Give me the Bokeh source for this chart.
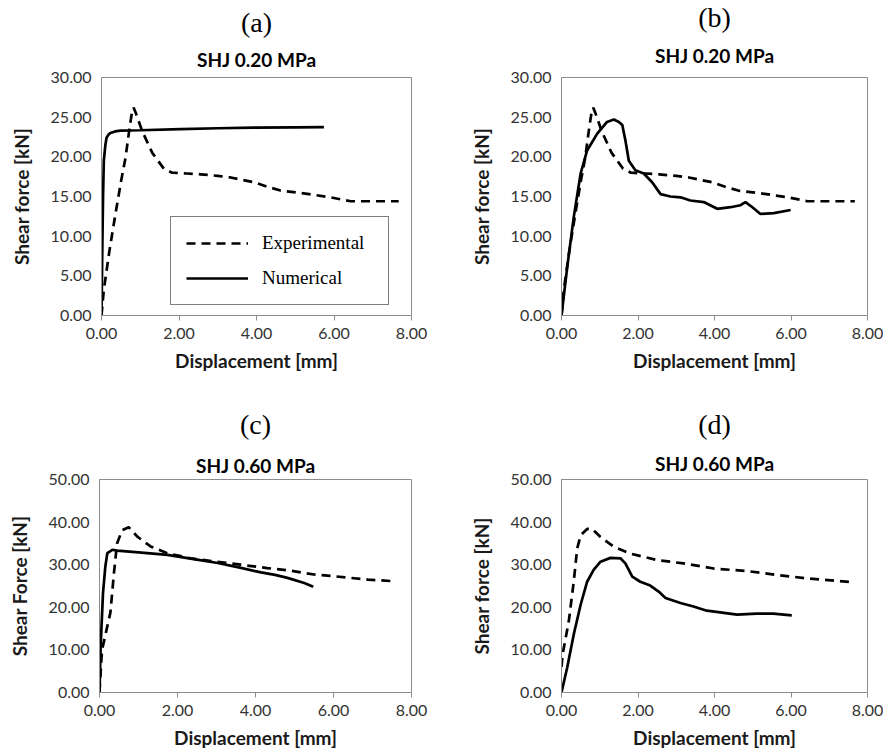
from bokeh.plotting import figure
from bokeh.models import (Range1d, FixedTicker, PrintfTickFormatter, Title,
                          Legend, LegendItem)
from bokeh.layouts import column, row
from bokeh.embed import file_html
from bokeh.resources import INLINE

# ---------------- data ----------------
x_ticks = [0, 2, 4, 6, 8]
y_ticks_02 = [0, 5, 10, 15, 20, 25, 30]
y_ticks_06 = [0, 10, 20, 30, 40, 50]

# SHJ 0.20 MPa, experimental (panels a and b)
exp02_x = [0, 0.06, 0.2, 0.36, 0.5, 0.62, 0.72, 0.79, 0.83, 0.88, 1.05, 1.31,
           1.61, 1.82, 2.2, 2.55, 3.0, 3.33, 3.93, 4.3, 4.62, 5.31, 5.91, 6.43,
           7.0, 7.67]
exp02_y = [0, 3.25, 8.0, 12.8, 16.8, 19.9, 23.5, 25.75, 26.2, 25.6, 23.25, 20.5,
           18.5, 18.0, 17.9, 17.8, 17.6, 17.4, 16.8, 16.2, 15.75, 15.33, 14.9, 14.4,
           14.4, 14.4]

# panel a, numerical
num_a_x = [0, 0.02, 0.04, 0.06, 0.1, 0.13, 0.18, 0.23, 0.35, 0.49, 1.0, 2.04,
           3.0, 3.93, 5.0, 5.74]
num_a_y = [0, 8, 15, 19.5, 21.5, 22.4, 22.8, 23.0, 23.2, 23.3, 23.35, 23.5,
           23.6, 23.67, 23.72, 23.75]

# panel b, numerical
num_b_x = [0, 0.15, 0.32, 0.5, 0.67, 0.93, 1.19, 1.37, 1.5, 1.59, 1.67, 1.76,
           1.93, 2.15, 2.37, 2.59, 2.85, 3.11, 3.37, 3.72, 4.07, 4.42, 4.68, 4.81,
           4.99, 5.2, 5.55, 5.99]
num_b_y = [0, 6.1, 12.4, 17.9, 20.8, 22.9, 24.4, 24.7, 24.4, 24.0, 22.1, 19.5,
           18.3, 17.9, 16.8, 15.3, 15.0, 14.9, 14.5, 14.3, 13.45, 13.65, 13.9, 14.3,
           13.65, 12.8, 12.9, 13.3]

# SHJ 0.60 MPa, experimental (panel c)
exp_c_x = [0, 0.05, 0.07, 0.28, 0.37, 0.45, 0.58, 0.75, 0.97, 1.31, 1.74, 2.33,
           2.93, 3.62, 4.3, 4.9, 5.5, 6.0, 6.88, 7.6]
exp_c_y = [0, 8, 10.2, 18.8, 28, 35, 38.1, 38.8, 36.6, 34.3, 32.7, 31.5,
           30.8, 30.0, 29.2, 28.6, 27.7, 27.3, 26.5, 26.1]

# panel c, numerical
num_c_x = [0, 0.03, 0.09, 0.15, 0.2, 0.33, 0.45, 1.0, 1.74, 2.5, 3.03, 3.6,
           4.14, 4.5, 4.82, 5.25, 5.48]
num_c_y = [0, 11, 23.4, 29.6, 32.7, 33.5, 33.3, 32.9, 32.3, 31.2, 30.4, 29.3,
           28.2, 27.6, 26.9, 25.7, 24.8]

# SHJ 0.60 MPa, experimental (panel d)
exp_d_x = [0, 0.03, 0.19, 0.32, 0.41, 0.5, 0.67, 0.8, 1.02, 1.37, 1.8, 2.5,
           3.19, 3.98, 4.85, 5.63, 6.41, 7.63]
exp_d_y = [6, 9.0, 16.7, 26, 33.8, 36.9, 38.4, 38.4, 36.5, 34.2, 32.6, 31.1,
           30.3, 29.1, 28.5, 27.6, 26.8, 25.9]

# panel d, numerical
num_d_x = [0, 0.15, 0.32, 0.5, 0.67, 0.84, 1.02, 1.28, 1.54, 1.67, 1.85, 2.06,
           2.32, 2.54, 2.72, 3.11, 3.45, 3.8, 4.15, 4.59, 5.1, 5.53, 6.02]
num_d_y = [0, 5.9, 13.6, 20.6, 26, 28.8, 30.7, 31.6, 31.5, 30.3, 27.2, 26.0,
           25.1, 23.7, 22.2, 21.0, 20.2, 19.2, 18.8, 18.3, 18.5, 18.5, 18.1]

SANS = "Lato"
SERIF = "Liberation Serif"
GRAY = "#8c8c8c"


def make_panel(letter, title, ylabel, ymax, yticks, w, h, borders,
               ex, ey, nx, ny, tstand, lstand):
    L, R, T, B = borders
    p = figure(width=w, height=h, output_backend="svg", toolbar_location=None,
               x_range=Range1d(0, 8), y_range=Range1d(0, ymax),
               min_border_left=L, min_border_right=R,
               min_border_top=T, min_border_bottom=B)
    p.xgrid.visible = False
    p.ygrid.visible = False
    p.outline_line_color = GRAY
    p.outline_line_width = 1
    p.background_fill_color = "white"
    p.border_fill_color = "white"

    for ax in (p.xaxis[0], p.yaxis[0]):
        ax.axis_line_color = GRAY
        ax.major_tick_line_color = GRAY
        ax.minor_tick_line_color = None
        ax.major_tick_in = 0
        ax.major_label_text_font = SANS
        ax.major_label_text_font_size = "16px"
        ax.major_label_text_color = "#333333"
        ax.axis_label_text_font = SANS
        ax.axis_label_text_font_size = "19px"
        ax.axis_label_text_font_style = "bold"
        ax.axis_label_text_color = "#1a1a1a"
        ax.formatter = PrintfTickFormatter(format="%.2f")
    p.xaxis[0].ticker = FixedTicker(ticks=x_ticks)
    p.yaxis[0].ticker = FixedTicker(ticks=yticks)
    p.xaxis[0].major_tick_out = 5
    p.yaxis[0].major_tick_out = 0
    p.xaxis[0].major_label_standoff = 7
    p.yaxis[0].major_label_standoff = 10
    p.xaxis[0].axis_label = "Displacement [mm]"
    p.yaxis[0].axis_label = ylabel
    p.xaxis[0].axis_label_standoff = 7
    p.yaxis[0].axis_label_standoff = 15

    r_exp = p.line(ex, ey, line_color="black", line_width=2.7, line_dash="9 6")
    r_num = p.line(nx, ny, line_color="black", line_width=2.7)

    # outer title: panel letter
    p.title.text = letter
    p.title.align = "center"
    p.title.vertical_align = "middle"
    p.title.text_font = SERIF
    p.title.text_font_size = "28px"
    p.title.text_font_style = "normal"
    p.title.text_color = "black"
    p.title.standoff = lstand
    # inner title: test name
    p.add_layout(Title(text=title, align="center", vertical_align="middle",
                       text_font=SANS, text_font_size="19px",
                       text_font_style="bold", text_color="black",
                       standoff=tstand), "above")
    return p, r_exp, r_num


pa, ra_e, ra_n = make_panel("(a)", "SHJ 0.20 MPa", "Shear force [kN]", 30, y_ticks_02,
                            440, 380, (101, 29, 76, 64),
                            exp02_x, exp02_y, num_a_x, num_a_y, 11, 5)
pb, _, _ = make_panel("(b)", "SHJ 0.20 MPa", "Shear force [kN]", 30, y_ticks_02,
                      443, 380, (121, 16, 77, 65),
                      exp02_x, exp02_y, num_b_x, num_b_y, 19, -1)
pc, _, _ = make_panel("(c)", "SHJ 0.60 MPa", "Shear Force [kN]", 50, y_ticks_06,
                      440, 375, (99, 29, 99, 61),
                      exp_c_x, exp_c_y, num_c_x, num_c_y, 3, 21)
pd, _, _ = make_panel("(d)", "SHJ 0.60 MPa", "Shear force [kN]", 50, y_ticks_06,
                      443, 375, (121, 16, 97, 63),
                      exp_d_x, exp_d_y, num_d_x, num_d_y, 7, 13)

legend = Legend(items=[LegendItem(label="Experimental", renderers=[ra_e]),
                       LegendItem(label="Numerical", renderers=[ra_n])],
                location=(69, 10), glyph_width=62, glyph_height=22,
                label_height=22, label_width=111, spacing=13, padding=15,
                margin=0, label_standoff=14,
                label_text_font=SERIF, label_text_font_size="19px",
                label_text_color="black",
                border_line_color="black", border_line_width=1.5,
                background_fill_color="white", background_fill_alpha=1)
pa.add_layout(legend, "center")

layout = column(row(pa, pb), row(pc, pd))
open("out.html", "w").write(file_html(layout, INLINE))
